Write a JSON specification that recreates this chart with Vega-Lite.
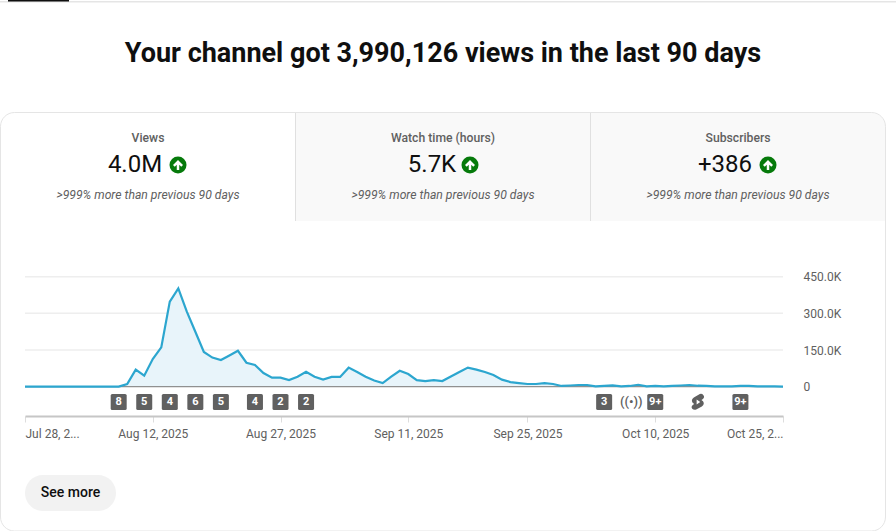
{
  "$schema": "https://vega.github.io/schema/vega-lite/v6.json",
  "width": 896,
  "height": 531,
  "autosize": {"type": "fit", "contains": "padding"},
  "padding": 0,
  "background": "#ffffff",
  "view": {"stroke": null},
  "config": {
    "font": "Roboto",
    "axis": {"labelFont": "Roboto", "labelFontSize": 12, "labelColor": "#606060"},
    "text": {"font": "Roboto"}
  },
  "datasets": {
    "views": [
      {"date": "2025-07-28", "views": 0}, {"date": "2025-07-29", "views": 0}, {"date": "2025-07-30", "views": 0},
      {"date": "2025-07-31", "views": 0}, {"date": "2025-08-01", "views": 0}, {"date": "2025-08-02", "views": 0},
      {"date": "2025-08-03", "views": 0}, {"date": "2025-08-04", "views": 0}, {"date": "2025-08-05", "views": 0},
      {"date": "2025-08-06", "views": 0}, {"date": "2025-08-07", "views": 0}, {"date": "2025-08-08", "views": 500},
      {"date": "2025-08-09", "views": 11000}, {"date": "2025-08-10", "views": 70000}, {"date": "2025-08-11", "views": 45000},
      {"date": "2025-08-12", "views": 113000}, {"date": "2025-08-13", "views": 161000}, {"date": "2025-08-14", "views": 348000},
      {"date": "2025-08-15", "views": 402000}, {"date": "2025-08-16", "views": 307000}, {"date": "2025-08-17", "views": 225000},
      {"date": "2025-08-18", "views": 142000}, {"date": "2025-08-19", "views": 119000}, {"date": "2025-08-20", "views": 109000},
      {"date": "2025-08-21", "views": 128000}, {"date": "2025-08-22", "views": 147000}, {"date": "2025-08-23", "views": 98000},
      {"date": "2025-08-24", "views": 89000}, {"date": "2025-08-25", "views": 56000}, {"date": "2025-08-26", "views": 37000},
      {"date": "2025-08-27", "views": 37000}, {"date": "2025-08-28", "views": 27000}, {"date": "2025-08-29", "views": 41000},
      {"date": "2025-08-30", "views": 61000}, {"date": "2025-08-31", "views": 41000}, {"date": "2025-09-01", "views": 29000},
      {"date": "2025-09-02", "views": 40000}, {"date": "2025-09-03", "views": 40000}, {"date": "2025-09-04", "views": 78000},
      {"date": "2025-09-05", "views": 60000}, {"date": "2025-09-06", "views": 41000}, {"date": "2025-09-07", "views": 25000},
      {"date": "2025-09-08", "views": 15000}, {"date": "2025-09-09", "views": 41000}, {"date": "2025-09-10", "views": 65000},
      {"date": "2025-09-11", "views": 52000}, {"date": "2025-09-12", "views": 27000}, {"date": "2025-09-13", "views": 23000},
      {"date": "2025-09-14", "views": 27000}, {"date": "2025-09-15", "views": 23000}, {"date": "2025-09-16", "views": 42000},
      {"date": "2025-09-17", "views": 60000}, {"date": "2025-09-18", "views": 78000}, {"date": "2025-09-19", "views": 70000},
      {"date": "2025-09-20", "views": 60000}, {"date": "2025-09-21", "views": 48000}, {"date": "2025-09-22", "views": 29000},
      {"date": "2025-09-23", "views": 19000}, {"date": "2025-09-24", "views": 15000}, {"date": "2025-09-25", "views": 11000},
      {"date": "2025-09-26", "views": 11000}, {"date": "2025-09-27", "views": 15000}, {"date": "2025-09-28", "views": 11000},
      {"date": "2025-09-29", "views": 3000}, {"date": "2025-09-30", "views": 5000}, {"date": "2025-10-01", "views": 7000},
      {"date": "2025-10-02", "views": 7000}, {"date": "2025-10-03", "views": 1000}, {"date": "2025-10-04", "views": 3000},
      {"date": "2025-10-05", "views": 5000}, {"date": "2025-10-06", "views": 1000}, {"date": "2025-10-07", "views": 3000},
      {"date": "2025-10-08", "views": 8000}, {"date": "2025-10-09", "views": 1500}, {"date": "2025-10-10", "views": 3000},
      {"date": "2025-10-11", "views": 1000}, {"date": "2025-10-12", "views": 3000}, {"date": "2025-10-13", "views": 5000},
      {"date": "2025-10-14", "views": 7000}, {"date": "2025-10-15", "views": 4000}, {"date": "2025-10-16", "views": 3000},
      {"date": "2025-10-17", "views": 1000}, {"date": "2025-10-18", "views": 1000}, {"date": "2025-10-19", "views": 1000},
      {"date": "2025-10-20", "views": 3000}, {"date": "2025-10-21", "views": 3000}, {"date": "2025-10-22", "views": 1000},
      {"date": "2025-10-23", "views": 1000}, {"date": "2025-10-24", "views": 1000}, {"date": "2025-10-25", "views": 500}
    ],
    "gridlines": [
      {"level": 0, "from": "2025-07-28", "to": "2025-10-25"},
      {"level": 150000, "from": "2025-07-28", "to": "2025-10-25"},
      {"level": 300000, "from": "2025-07-28", "to": "2025-10-25"},
      {"level": 450000, "from": "2025-07-28", "to": "2025-10-25"}
    ],
    "badges": [
      {"date": "2025-08-08", "label": "8", "kind": "count"},
      {"date": "2025-08-11", "label": "5", "kind": "count"},
      {"date": "2025-08-14", "label": "4", "kind": "count"},
      {"date": "2025-08-17", "label": "6", "kind": "count"},
      {"date": "2025-08-20", "label": "5", "kind": "count"},
      {"date": "2025-08-24", "label": "4", "kind": "count"},
      {"date": "2025-08-27", "label": "2", "kind": "count"},
      {"date": "2025-08-30", "label": "2", "kind": "count"},
      {"date": "2025-10-04", "label": "3", "kind": "count"},
      {"date": "2025-10-07", "label": "((•))", "kind": "live"},
      {"date": "2025-10-10", "label": "9+", "kind": "count"},
      {"date": "2025-10-15", "label": "", "kind": "shorts"},
      {"date": "2025-10-20", "label": "9+", "kind": "count"}
    ],
    "cards": [
      {"metric": "Views", "line": "label", "text": "Views"},
      {"metric": "Views", "line": "value", "text": "4.0M"},
      {"metric": "Views", "line": "note", "text": ">999% more than previous 90 days"},
      {"metric": "Watch time (hours)", "line": "label", "text": "Watch time (hours)"},
      {"metric": "Watch time (hours)", "line": "value", "text": "5.7K"},
      {"metric": "Watch time (hours)", "line": "note", "text": ">999% more than previous 90 days"},
      {"metric": "Subscribers", "line": "label", "text": "Subscribers"},
      {"metric": "Subscribers", "line": "value", "text": "+386"},
      {"metric": "Subscribers", "line": "note", "text": ">999% more than previous 90 days"}
    ]
  },
  "resolve": {"scale": {"x": "independent", "y": "independent"}},
  "layer": [
    {
      "data": {"values": [{"part": "strip"}]},
      "mark": {"type": "rect", "fill": "#e5e5e5"},
      "encoding": {
        "x": {"field": "part", "type": "nominal", "axis": null, "scale": {"range": [0, 896], "paddingInner": 0, "paddingOuter": 0}},
        "y": {"field": "part", "type": "nominal", "axis": null, "scale": {"range": [1, 2.5], "paddingInner": 0, "paddingOuter": 0}}
      }
    },
    {
      "data": {"values": [{"part": "active tab"}]},
      "mark": {"type": "rect", "fill": "#0f0f0f"},
      "encoding": {
        "x": {"field": "part", "type": "nominal", "axis": null, "scale": {"range": [8, 69], "paddingInner": 0, "paddingOuter": 0}},
        "y": {"field": "part", "type": "nominal", "axis": null, "scale": {"range": [0, 1.5], "paddingInner": 0, "paddingOuter": 0}}
      }
    },
    {
      "data": {"values": [{"headline": "Your channel got 3,990,126 views in the last 90 days"}]},
      "mark": {"type": "text", "fontSize": 27, "fontWeight": 700, "fill": "#0f0f0f", "baseline": "middle", "align": "center"},
      "encoding": {
        "x": {"field": "headline", "type": "nominal", "axis": null, "scale": {"range": [0, 886], "paddingInner": 0, "paddingOuter": 0}},
        "y": {"field": "headline", "type": "nominal", "axis": null, "scale": {"range": [32, 76], "paddingInner": 0, "paddingOuter": 0}},
        "text": {"field": "headline", "type": "nominal"}
      }
    },
    {
      "data": {"values": [{"metric": "Watch time (hours)"}]},
      "mark": {"type": "rect", "fill": "#f9f9f9"},
      "encoding": {
        "x": {"field": "metric", "type": "nominal", "axis": null, "scale": {"domain": ["Views", "Watch time (hours)", "Subscribers"], "range": [0.5, 885.5], "paddingInner": 0, "paddingOuter": 0}},
        "y": {"field": "metric", "type": "nominal", "axis": null, "scale": {"range": [113, 221], "paddingInner": 0, "paddingOuter": 0}}
      }
    },
    {
      "data": {"values": [{"metric": "Subscribers"}]},
      "mark": {"type": "rect", "fill": "#f9f9f9", "cornerRadiusTopRight": 14},
      "encoding": {
        "x": {"field": "metric", "type": "nominal", "axis": null, "scale": {"domain": ["Views", "Watch time (hours)", "Subscribers"], "range": [0.5, 885.5], "paddingInner": 0, "paddingOuter": 0}},
        "y": {"field": "metric", "type": "nominal", "axis": null, "scale": {"range": [113, 221], "paddingInner": 0, "paddingOuter": 0}}
      }
    },
    {
      "data": {"values": [{"metric": "Views"}, {"metric": "Watch time (hours)"}]},
      "mark": {"type": "rule", "stroke": "#e0e0e0", "strokeWidth": 1},
      "encoding": {
        "x": {"field": "metric", "type": "nominal", "bandPosition": 1, "axis": null, "scale": {"type": "band", "domain": ["Views", "Watch time (hours)", "Subscribers"], "range": [0.5, 885.5], "paddingInner": 0, "paddingOuter": 0}},
        "y": {"datum": 0, "type": "quantitative", "axis": null, "scale": {"domain": [0, 1], "range": [221, 113]}},
        "y2": {"datum": 1}
      }
    },
    {
      "data": {"values": [{"part": "frame"}]},
      "mark": {"type": "rect", "fill": null, "stroke": "#e5e5e5", "strokeWidth": 1, "cornerRadius": 14},
      "encoding": {
        "x": {"field": "part", "type": "nominal", "axis": null, "scale": {"range": [0.5, 885.5], "paddingInner": 0, "paddingOuter": 0}},
        "y": {"field": "part", "type": "nominal", "axis": null, "scale": {"range": [112.5, 531], "paddingInner": 0, "paddingOuter": 0}}
      }
    },
    {
      "data": {"name": "cards"},
      "encoding": {
        "x": {"field": "metric", "type": "nominal", "axis": null, "scale": {"type": "band", "domain": ["Views", "Watch time (hours)", "Subscribers"], "range": [0.5, 885.5], "paddingInner": 0, "paddingOuter": 0}},
        "y": {"field": "line", "type": "nominal", "axis": null, "scale": {"type": "point", "domain": ["label", "value", "note"], "range": [138, 195], "padding": 0}}
      },
      "layer": [
        {
          "transform": [{"filter": "datum.line === 'label'"}],
          "mark": {"type": "text", "fontSize": 12.2, "fontWeight": 500, "fill": "#606060", "baseline": "middle"},
          "encoding": {"text": {"field": "text", "type": "nominal"}}
        },
        {
          "transform": [{"filter": "datum.line === 'value'"}],
          "mark": {"type": "text", "fontSize": 24, "fill": "#0f0f0f", "baseline": "middle", "dy": -1.5, "dx": {"expr": "datum.metric === 'Watch time (hours)' ? -11 : -13"}},
          "encoding": {"text": {"field": "text", "type": "nominal"}}
        },
        {
          "transform": [{"filter": "datum.line === 'note'"}],
          "mark": {"type": "text", "fontSize": 12.2, "fontStyle": "italic", "fill": "#606060", "baseline": "middle"},
          "encoding": {"text": {"field": "text", "type": "nominal"}}
        },
        {
          "transform": [{"filter": "datum.line === 'value'"}],
          "mark": {"type": "point", "shape": "circle", "filled": true, "fill": "#067a0b", "opacity": 1, "size": 290, "yOffset": -1.5, "xOffset": {"expr": "datum.metric === 'Watch time (hours)' ? 27 : 30"}}
        },
        {
          "transform": [{"filter": "datum.line === 'value'"}],
          "mark": {"type": "point", "shape": "M0,-1 L1,0 L0.65,0.35 L0.25,-0.05 L0.25,1 L-0.25,1 L-0.25,-0.05 L-0.65,0.35 L-1,0 Z", "filled": true, "fill": "#ffffff", "opacity": 1, "size": 100, "yOffset": -1.5, "xOffset": {"expr": "datum.metric === 'Watch time (hours)' ? 27 : 30"}}
        }
      ]
    },
    {
      "data": {"name": "views"},
      "encoding": {
        "x": {
          "field": "date",
          "type": "temporal",
          "title": null,
          "scale": {"type": "utc", "domain": ["2025-07-28", "2025-10-25"], "range": [25, 783], "nice": false},
          "axis": {
            "orient": "bottom",
            "offset": -114,
            "values": ["2025-07-28", "2025-08-12", "2025-08-27", "2025-09-11", "2025-09-25", "2025-10-10", "2025-10-25"],
            "labelExpr": "datum.index === 0 || datum.index === 1 ? utcFormat(datum.value, '%b %-d, ') + '2...' : utcFormat(datum.value, '%b %-d, %Y')",
            "labelFlush": true,
            "labelOverlap": false,
            "labelPadding": 6,
            "grid": false,
            "domainColor": "#c6c6c6",
            "domainWidth": 2,
            "tickColor": "#dddddd",
            "tickSize": 6
          }
        },
        "y": {
          "field": "views",
          "type": "quantitative",
          "title": null,
          "scale": {"domain": [0, 450000], "range": [386.7, 276.7], "nice": false},
          "axis": {
            "orient": "right",
            "offset": -113,
            "values": [0, 150000, 300000, 450000],
            "labelExpr": "datum.value === 0 ? '0' : format(datum.value / 1000, '.1f') + 'K'",
            "labelPadding": 20,
            "tickSize": 0,
            "domain": false,
            "grid": false
          }
        }
      },
      "layer": [
        {
          "data": {"name": "gridlines"},
          "transform": [{"filter": "datum.level > 0"}],
          "mark": {"type": "rule", "stroke": "#eeeeee", "strokeWidth": 1.5},
          "encoding": {
            "x": {"field": "from", "type": "temporal"},
            "x2": {"field": "to"},
            "y": {"field": "level", "type": "quantitative"}
          }
        },
        {"mark": {"type": "area", "fill": "#e8f4fa", "opacity": 1}},
        {
          "data": {"name": "gridlines"},
          "transform": [{"filter": "datum.level === 0"}],
          "mark": {"type": "rule", "stroke": "#909090", "strokeWidth": 1.2},
          "encoding": {
            "x": {"field": "from", "type": "temporal"},
            "x2": {"field": "to"},
            "y": {"field": "level", "type": "quantitative"}
          }
        },
        {"mark": {"type": "line", "stroke": "#2ca6cf", "strokeWidth": 2.2}}
      ]
    },
    {
      "data": {"name": "badges"},
      "encoding": {
        "x": {"field": "date", "type": "temporal", "axis": null, "scale": {"type": "utc", "domain": ["2025-07-28", "2025-10-25"], "range": [25, 783], "nice": false}},
        "y": {"datum": "badge", "type": "nominal", "axis": null, "scale": {"type": "point", "domain": ["badge"], "range": [402, 402], "padding": 0}}
      },
      "layer": [
        {
          "transform": [{"filter": "datum.kind === 'count'"}],
          "mark": {"type": "point", "shape": "M-0.8,-1 L0.8,-1 Q1,-1 1,-0.8 L1,0.8 Q1,1 0.8,1 L-0.8,1 Q-1,1 -1,0.8 L-1,-0.8 Q-1,-1 -0.8,-1 Z", "filled": true, "fill": "#606060", "opacity": 1, "size": 256}
        },
        {
          "transform": [{"filter": "datum.kind === 'shorts'"}],
          "mark": {"type": "point", "shape": "M0.25,-1 L-0.5,-0.55 Q-0.9,-0.25 -0.65,0.1 L-0.45,0.25 L-0.6,0.35 Q-0.9,0.6 -0.7,0.85 Q-0.5,1.05 -0.2,0.95 L0.5,0.55 Q0.9,0.25 0.65,-0.1 L0.45,-0.25 L0.6,-0.35 Q0.9,-0.6 0.7,-0.85 Q0.5,-1.1 0.25,-1 Z M-0.15,-0.3 L0.3,0 L-0.15,0.3 Z", "filled": true, "fill": "#606060", "opacity": 1, "size": 256}
        },
        {
          "transform": [{"filter": "datum.kind === 'count'"}],
          "mark": {"type": "text", "fontSize": 11, "fontWeight": 700, "fill": "#ffffff", "baseline": "middle"},
          "encoding": {"text": {"field": "label", "type": "nominal"}}
        },
        {
          "transform": [{"filter": "datum.kind === 'live'"}],
          "mark": {"type": "text", "fontSize": 13, "fontWeight": 500, "fill": "#606060", "baseline": "middle", "dx": 1.5},
          "encoding": {"text": {"field": "label", "type": "nominal"}}
        }
      ]
    },
    {
      "data": {"values": [{"button": "See more"}]},
      "encoding": {
        "x": {"field": "button", "type": "nominal", "axis": null, "scale": {"type": "band", "range": [25, 116], "paddingInner": 0, "paddingOuter": 0}},
        "y": {"field": "button", "type": "nominal", "axis": null, "scale": {"type": "band", "range": [475, 511], "paddingInner": 0, "paddingOuter": 0}}
      },
      "layer": [
        {"mark": {"type": "rect", "fill": "#f2f2f2", "cornerRadius": 18}},
        {
          "mark": {"type": "text", "fontSize": 14, "fontWeight": 500, "fill": "#0f0f0f", "baseline": "middle"},
          "encoding": {"text": {"field": "button", "type": "nominal"}}
        }
      ]
    }
  ]
}
